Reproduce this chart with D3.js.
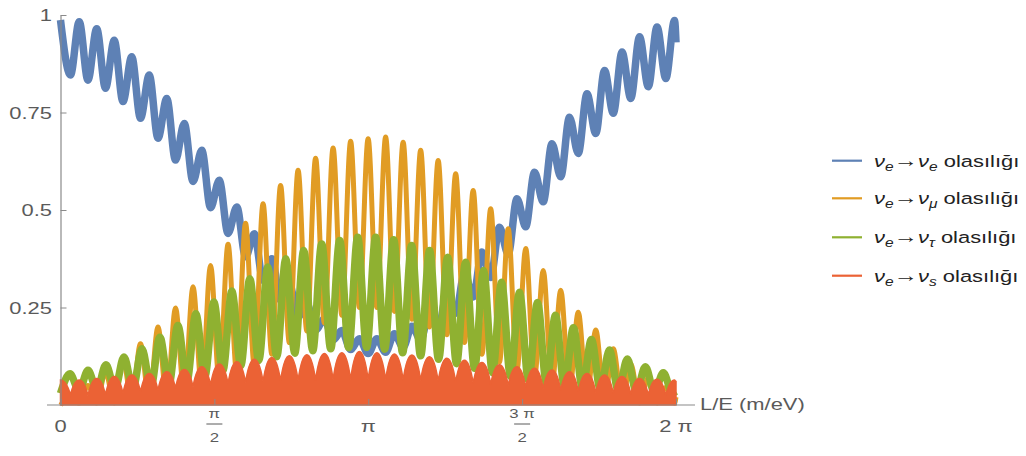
<!DOCTYPE html>
<html><head><meta charset="utf-8">
<script src="https://cdn.jsdelivr.net/npm/d3@7"></script>
<style>body{margin:0;background:#fff}svg{display:block}</style>
</head><body>
<svg id="chart" width="1026" height="456"></svg>
<script>
// ---- data ----
// L/E positions of the fast-oscillation extrema shared by the e, mu and s channels
const L = [0,0.1016,0.1910,0.2803,0.3697,0.4591,0.5485,0.6378,0.7272,0.8166,0.9060,0.9953,1.0847,1.1741,1.2635,1.3528,1.4422,1.5316,1.6210,1.7103,1.7997,1.8891,1.9785,2.0678,2.1572,2.2466,2.3360,2.4253,2.5147,2.6041,2.6935,2.7828,2.8722,2.9616,3.0510,3.1403,3.2297,3.3191,3.4085,3.4978,3.5872,3.6766,3.7660,3.8553,3.9447,4.0341,4.1235,4.2128,4.3022,4.3916,4.4810,4.5703,4.6597,4.7491,4.8385,4.9278,5.0172,5.1066,5.1960,5.2853,5.3747,5.4641,5.5535,5.6428,5.7322,5.8216,5.9110,6.0003,6.0897,6.1791,6.2685,6.2832];
const pEE = [0.987,0.846,0.983,0.833,0.965,0.812,0.935,0.778,0.893,0.735,0.846,0.684,0.786,0.628,0.722,0.573,0.653,0.506,0.576,0.440,0.508,0.380,0.439,0.320,0.375,0.269,0.311,0.226,0.260,0.192,0.221,0.167,0.191,0.142,0.170,0.132,0.170,0.135,0.183,0.148,0.202,0.167,0.239,0.194,0.285,0.235,0.337,0.277,0.392,0.327,0.456,0.387,0.529,0.457,0.597,0.521,0.670,0.585,0.738,0.645,0.798,0.696,0.858,0.748,0.905,0.786,0.944,0.816,0.969,0.837,0.986,0.93];
const pEMu = [0,0.02,0.005,0.05,0.005,0.085,0.005,0.119,0.01,0.157,0.01,0.2,0.015,0.249,0.025,0.303,0.04,0.358,0.06,0.412,0.08,0.466,0.1,0.516,0.13,0.563,0.16,0.602,0.19,0.633,0.21,0.659,0.23,0.676,0.25,0.683,0.25,0.687,0.24,0.674,0.22,0.653,0.2,0.627,0.18,0.593,0.16,0.55,0.13,0.503,0.11,0.452,0.09,0.401,0.07,0.345,0.05,0.294,0.035,0.238,0.025,0.192,0.015,0.144,0.01,0.105,0.005,0.07,0.005,0.045,0.005,0.02];
const pES = [0.064,0.026,0.064,0.024,0.068,0.026,0.073,0.03,0.077,0.034,0.081,0.038,0.085,0.043,0.091,0.047,0.098,0.051,0.105,0.055,0.111,0.058,0.117,0.06,0.122,0.062,0.126,0.063,0.129,0.064,0.132,0.065,0.134,0.065,0.137,0.065,0.134,0.065,0.131,0.064,0.128,0.063,0.124,0.061,0.12,0.059,0.115,0.056,0.109,0.053,0.103,0.05,0.098,0.046,0.094,0.042,0.09,0.038,0.085,0.035,0.081,0.032,0.077,0.03,0.073,0.028,0.068,0.026,0.066,0.025,0.064,0.06];
// the tau channel oscillates with a slightly longer period, so it has its own positions
const Ltau = [0,0.097,0.189,0.2805,0.3723,0.464,0.5558,0.6476,0.7394,0.8312,0.9229,1.0147,1.1065,1.1982,1.2900,1.3818,1.4736,1.5653,1.6571,1.7489,1.8406,1.9324,2.0242,2.1160,2.2077,2.2995,2.3913,2.4830,2.5748,2.6666,2.7584,2.8501,2.9419,3.0337,3.1254,3.2172,3.3090,3.4007,3.4925,3.5843,3.6761,3.7678,3.8596,3.9514,4.0432,4.1349,4.2267,4.3185,4.4102,4.5020,4.5938,4.6856,4.7773,4.8691,4.9609,5.0527,5.1444,5.2362,5.3280,5.4197,5.5115,5.6033,5.6951,5.7868,5.8786,5.9704,6.0621,6.1539,6.2457,6.2832];
const pETau = [0.03,0.08,0.036,0.089,0.039,0.103,0.041,0.123,0.043,0.144,0.047,0.174,0.053,0.204,0.061,0.234,0.073,0.264,0.088,0.292,0.101,0.324,0.114,0.354,0.124,0.375,0.133,0.396,0.139,0.413,0.144,0.422,0.147,0.43,0.148,0.43,0.143,0.424,0.134,0.409,0.126,0.396,0.117,0.379,0.106,0.366,0.094,0.345,0.083,0.315,0.073,0.289,0.063,0.263,0.055,0.23,0.048,0.198,0.043,0.168,0.039,0.141,0.036,0.118,0.034,0.098,0.033,0.083,0.031,0.035];

const xTickValues = [0, Math.PI/2, Math.PI, 3*Math.PI/2, 2*Math.PI];
const xTickLabels = [["0"], ["π","2"], ["π"], ["3 π","2"], ["2 π"]];
const yTickValues = [0.25, 0.5, 0.75, 1];
const yTickLabels = ["0.25", "0.5", "0.75", "1"];
const xAxisTitle = "L/E (m/eV)";
const legendTargets = ["e", "μ", "τ", "s"];
const legendWord = "olasılığı";

// ---- styling ----
const COL = ["#5E81B5", "#E19C24", "#8FB131", "#EB6235"];
const AXIS = "#8a8a8a", LABEL = "#5a5a5a";
const FONT = "Liberation Sans, Arial, sans-serif";
const SX = 1.29;   // the reference text is drawn horizontally widened

const svg = d3.select("#chart");
const x = d3.scaleLinear().domain([0, 2*Math.PI]).range([60.5, 676]);
const y = d3.scaleLinear().domain([0, 1]).range([405, 15]);

// curve with rounded crests and cusped troughs (arches)
function archCurve(context) {
  let pts = [], line = NaN;
  return {
    areaStart(){ line = 0; }, areaEnd(){ line = NaN; },
    lineStart(){ pts = []; },
    point(px, py){ pts.push([+px, +py]); },
    lineEnd(){
      const n = pts.length;
      if (!n) return;
      if (line) context.lineTo(pts[0][0], pts[0][1]); else context.moveTo(pts[0][0], pts[0][1]);
      const isTrough = i => i > 0 && i < n-1 && pts[i][1] > pts[i-1][1] && pts[i][1] > pts[i+1][1];
      for (let i = 0; i < n-1; i++) {
        const [x0,y0] = pts[i], [x1,y1] = pts[i+1];
        const dx = x1-x0, dy = y1-y0;
        const k0 = isTrough(i) ? 0.8 : 0, k1 = isTrough(i+1) ? 0.8 : 0;
        context.bezierCurveTo(x0+dx/3, y0+k0*dy, x1-dx/3, y1-k1*dy, x1, y1);
      }
      if (line || (line !== 0 && n === 1)) context.closePath();
      line = 1 - line;
    }
  };
}

// series
const mkLine = xs => d3.line().x((d,i)=>x(xs[i])).y(d=>y(d)).curve(d3.curveMonotoneX);
svg.append("path").datum(pEE).attr("d", mkLine(L)).attr("fill","none")
  .attr("stroke",COL[0]).attr("stroke-width",7.5).attr("stroke-linejoin","round");
svg.append("path").datum(pEMu).attr("d", mkLine(L)).attr("fill","none")
  .attr("stroke",COL[1]).attr("stroke-width",5).attr("stroke-linejoin","round");
svg.append("path").datum(pETau).attr("d", mkLine(Ltau)).attr("fill","none")
  .attr("stroke",COL[2]).attr("stroke-width",7.5).attr("stroke-linejoin","round");
svg.append("path").datum(pES)
  .attr("d", d3.area().x((d,i)=>x(L[i])).y0(y(0)).y1(d=>y(d)).curve(archCurve))
  .attr("fill",COL[3]).attr("stroke",COL[3]).attr("stroke-width",1.5);

// axes
const gx = svg.append("g").attr("transform",`translate(0,${y(0)})`)
  .call(d3.axisBottom(x).tickValues(xTickValues).tickFormat("").tickSizeInner(-6).tickSizeOuter(0));
gx.select(".domain").remove();
gx.selectAll(".tick line").attr("stroke",AXIS);
svg.append("line").attr("x1",47).attr("x2",695).attr("y1",y(0)).attr("y2",y(0))
  .attr("stroke",AXIS).attr("stroke-width",1.2);

const gy = svg.append("g").attr("transform",`translate(${x(0)},0)`)
  .call(d3.axisLeft(y).tickValues(yTickValues).tickFormat("").tickSizeInner(-6).tickSizeOuter(0));
gy.select(".domain").attr("stroke",AXIS).attr("stroke-width",1.2);
gy.selectAll(".tick line").attr("stroke",AXIS);

// widened text helper
function wtext(parent, px, py, str, size, anchor, fill) {
  return parent.append("text").attr("transform",`translate(${px},${py}) scale(${SX},1)`)
    .attr("font-family",FONT).attr("font-size",size).attr("text-anchor",anchor||"start")
    .attr("fill",fill||LABEL).text(str);
}
yTickValues.forEach((v,i) => wtext(svg, 52, y(v)+6, yTickLabels[i], 17, "end"));

xTickValues.forEach((v,i) => {
  const lab = xTickLabels[i], cx = x(v);
  if (lab.length === 1) {
    wtext(svg, cx, 432, lab[0], 17, "middle");
  } else {
    wtext(svg, cx, 418, lab[0], 13, "middle");
    svg.append("line").attr("x1",cx-8).attr("x2",cx+8).attr("y1",424).attr("y2",424)
      .attr("stroke",LABEL).attr("stroke-width",1);
    wtext(svg, cx, 442, lab[1], 13, "middle");
  }
});
wtext(svg, 700, 410, xAxisTitle, 17, "start");

// legend
const legY = [160.7, 198.3, 237.3, 275.7];
legendTargets.forEach((t,i) => {
  const g = svg.append("g").attr("transform",`translate(0,${legY[i]})`);
  g.append("line").attr("x1",832).attr("x2",862).attr("stroke",COL[i]).attr("stroke-width",2.2);
  const tx = wtext(g, 874, 6, "", 17, "start", "#222");
  tx.append("tspan").attr("font-style","italic").text("ν");
  tx.append("tspan").attr("font-style","italic").attr("font-size",12).attr("dy",4).text("e");
  tx.append("tspan").attr("dy",-4).attr("font-size",19).text("→");
  tx.append("tspan").attr("font-style","italic").text("ν");
  tx.append("tspan").attr("font-style","italic").attr("font-size",12).attr("dy",4).text(t);
  tx.append("tspan").attr("dy",-4).text(" " + legendWord);
});
</script>
</body></html>
